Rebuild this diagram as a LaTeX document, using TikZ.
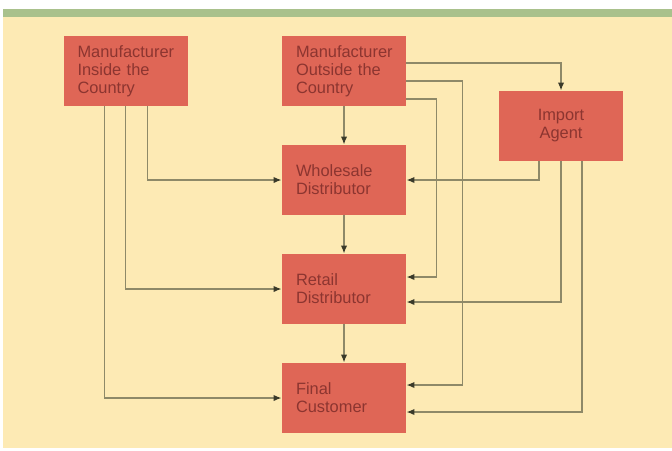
\documentclass[tikz,border=0pt]{standalone}
\usepackage{fontspec}
\setmainfont{Liberation Sans}
\usepackage{xcolor}
\usepackage{tikz}
\usetikzlibrary{positioning,arrows.meta,calc}
\definecolor{cream}{HTML}{FDEAB4}
\definecolor{sage}{HTML}{A9C18C}
\definecolor{salmon}{HTML}{DF6656}
\definecolor{wine}{HTML}{8C3530}
\definecolor{olive}{HTML}{8E8968}
\definecolor{tipdark}{HTML}{3A3A2A}
\tikzset{
  box/.style={rectangle, fill=salmon, minimum width=62pt, minimum height=35pt,
              text width=48pt, align=left, inner xsep=7pt, text=wine,
              font=\fontsize{8.2}{9}\selectfont},
  conn/.style={-{Latex[length=4pt,width=3.2pt,color=tipdark]}, line width=0.75pt, draw=olive},
}

\begin{document}
\begin{tikzpicture}[x=0.5pt, y=-0.5pt]
  % page and band
  \useasboundingbox (0,0) rectangle (672,450);
  \fill[white] (0,0) rectangle (672,450);
  \fill[cream] (3,17) rectangle (672,448);
  \fill[sage] (3,9) rectangle (672,17);

  % boxes
  \node[box] (mi) at (125.5,71) {Manufacturer\\Inside the\\Country};
  \node[box] (mo) at (344,71) {Manufacturer\\Outside the\\Country};
  \node[box, align=center] (ia) at (561,126) {Import\\Agent};
  \node[box] (wd) at (344,180) {Wholesale\\Distributor};
  \node[box] (rd) at (344,289) {Retail\\Distributor};
  \node[box] (fc) at (344,398) {Final\\Customer};

  % inside the country
  \draw[conn] ($(mi.south)+(-21,0)$) |- (fc.west);
  \draw[conn] (mi.south) |- (rd.west);
  \draw[conn] ($(mi.south)+(22,0)$) |- (wd.west);

  % outside the country
  \draw[conn] (mo.south) -- (wd.north);
  \draw[conn] ($(mo.east)+(0,-8)$) -| (ia.north);
  \draw[conn] ($(mo.east)+(0,10)$) -- ++(56,0) |- ($(fc.east)+(0,-13)$);
  \draw[conn] ($(mo.east)+(0,28)$) -- ++(30,0) |- ($(rd.east)+(0,-12)$);

  % import agent
  \draw[conn] ($(ia.south)+(-22,0)$) |- (wd.east);
  \draw[conn] (ia.south) |- ($(rd.east)+(0,13)$);
  \draw[conn] ($(ia.south)+(21,0)$) |- ($(fc.east)+(0,14)$);

  % down the chain
  \draw[conn] (wd.south) -- (rd.north);
  \draw[conn] (rd.south) -- (fc.north);
\end{tikzpicture}
\end{document}
